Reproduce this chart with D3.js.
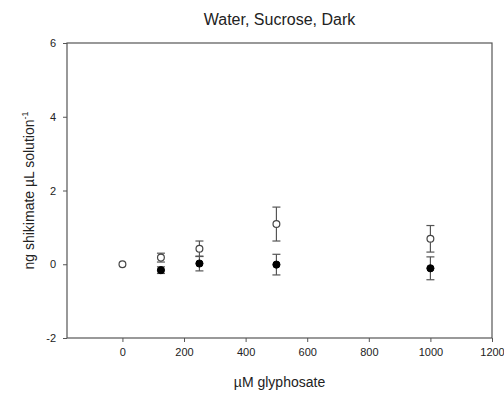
<!DOCTYPE html>
<html>
<head>
<meta charset="utf-8">
<script src="https://cdn.jsdelivr.net/npm/d3@7"></script>
<style>
  html, body { margin: 0; padding: 0; background: #fff; }
  svg { display: block; font-family: "Liberation Sans", Arial, sans-serif; }
</style>
</head>
<body>
<svg id="chart" width="504" height="398"></svg>
<script>
// Glyphosate concentrations (µM)
const openX = [0, 125, 250, 500, 1000];
const openY = [0, 0.18, 0.42, 1.09, 0.69];
const openErr = [0, 0.12, 0.21, 0.46, 0.36];

const filledX = [125, 250, 500, 1000];
const filledY = [-0.16, 0.02, -0.01, -0.11];
const filledErr = [0.09, 0.2, 0.28, 0.31];

const xTicks = [0, 200, 400, 600, 800, 1000, 1200];
const yTicks = [-2, 0, 2, 4, 6];

const svg = d3.select("#chart");
const m = { left: 67, right: 492, top: 43, bottom: 338 };

const x = d3.scaleLinear().domain([-180, 1200]).range([m.left, m.right]);
const y = d3.scaleLinear().domain([-2, 6]).range([m.bottom, m.top]);

const axisColor = "#555";
const plainInt = d => String(d);

// Frame
svg.append("rect")
  .attr("x", m.left).attr("y", m.top)
  .attr("width", m.right - m.left).attr("height", m.bottom - m.top)
  .attr("fill", "none").attr("stroke", axisColor).attr("stroke-width", 1.2);

// Axes
const xAxis = svg.append("g")
  .attr("transform", `translate(0,${m.bottom})`)
  .call(d3.axisBottom(x).tickValues(xTicks).tickSize(4).tickPadding(6).tickFormat(plainInt));
const yAxis = svg.append("g")
  .attr("transform", `translate(${m.left},0)`)
  .call(d3.axisLeft(y).tickValues(yTicks).tickSize(4).tickPadding(7).tickFormat(plainInt));

[xAxis, yAxis].forEach(g => {
  g.select(".domain").remove();
  g.selectAll(".tick line").attr("stroke", axisColor).attr("stroke-width", 1);
  g.selectAll(".tick text").attr("fill", "#222").style("font-size", "11px")
    .style("font-family", "'Liberation Sans', Arial, sans-serif");
});

// Title and axis labels
svg.append("text")
  .attr("x", (m.left + m.right) / 2).attr("y", 25)
  .attr("text-anchor", "middle").attr("fill", "#222")
  .style("font-size", "16px")
  .text("Water, Sucrose, Dark");

svg.append("text")
  .attr("x", (m.left + m.right) / 2).attr("y", 387)
  .attr("text-anchor", "middle").attr("fill", "#222")
  .style("font-size", "14px")
  .text("µM glyphosate");

const yl = svg.append("text")
  .attr("transform", `translate(34,${(m.top + m.bottom) / 2}) rotate(-90)`)
  .attr("text-anchor", "middle").attr("fill", "#222")
  .style("font-size", "14px");
yl.append("tspan").text("ng shikimate µL solution");
yl.append("tspan").attr("dy", -6).style("font-size", "9px").text("-1");

// Error bars
function errorBars(xs, ys, es) {
  const g = svg.append("g").attr("stroke", "#555").attr("stroke-width", 1.2);
  xs.forEach((xv, i) => {
    if (!es[i]) return;
    const cx = x(xv), top = y(ys[i] + es[i]), bot = y(ys[i] - es[i]);
    g.append("line").attr("x1", cx).attr("x2", cx).attr("y1", top).attr("y2", bot);
    g.append("line").attr("x1", cx - 4).attr("x2", cx + 4).attr("y1", top).attr("y2", top);
    g.append("line").attr("x1", cx - 4).attr("x2", cx + 4).attr("y1", bot).attr("y2", bot);
  });
}
errorBars(filledX, filledY, filledErr);
errorBars(openX, openY, openErr);

// Markers
svg.append("g").selectAll("circle")
  .data(filledX.map((d, i) => [d, filledY[i]]))
  .join("circle")
  .attr("cx", d => x(d[0])).attr("cy", d => y(d[1])).attr("r", 3.6)
  .attr("fill", "#000").attr("stroke", "#000").attr("stroke-width", 1);

svg.append("g").selectAll("circle")
  .data(openX.map((d, i) => [d, openY[i]]))
  .join("circle")
  .attr("cx", d => x(d[0])).attr("cy", d => y(d[1])).attr("r", 3.4)
  .attr("fill", "#fff").attr("stroke", "#444").attr("stroke-width", 1.2);
</script>
</body>
</html>
